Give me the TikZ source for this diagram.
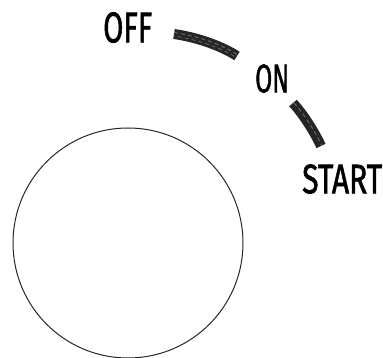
\documentclass[tikz,border=0pt]{standalone}
\usepackage{fontspec}
\newfontfamily\lblfont{Fira Sans}[FakeBold=1.6]
\tikzset{
  lbl/.style={inner sep=0pt, anchor=south west, font=\lblfont},
  marker/.style={line width=10pt, draw=black!85, line cap=butt},
  hatch/.style={line width=0.8pt, draw=black!55, dash pattern=on 4pt off 3pt},
  dial/.style={draw=black!85, line width=1pt}
}
\begin{document}
\begin{tikzpicture}[x=1pt,y=1pt]
\useasboundingbox (0,0) rectangle (383,358);
\node[lbl] (off) at (103,315) {\resizebox{49pt}{30pt}{OFF}};
\node[lbl] (on) at (255,265) {\resizebox{34pt}{28pt}{ON}};
\node[lbl] (start) at (302,164) {\resizebox{80pt}{29pt}{START}};
\coordinate (a1) at (174,324);
\coordinate (a2) at (237,302);
\coordinate (b1) at (293,255);
\coordinate (b2) at (321,212);
\draw[marker] (a1) .. controls (195,321) and (220,313) .. (a2);
\draw[hatch] ([yshift=1.5pt]a1) .. controls (195,322.5) and (220,314.5) .. ([yshift=1.5pt]a2);
\draw[hatch, dash phase=3pt, draw=black!60] ([yshift=-2pt]a1) .. controls (195,319) and (220,311) .. ([yshift=-2pt]a2);
\draw[marker] (b1) .. controls (302,245) and (313,229) .. (b2);
\draw[hatch] ([xshift=1pt]b1) .. controls (303,245) and (314,229) .. ([xshift=1pt]b2);
\node[dial, circle, minimum size=230pt, inner sep=0pt] (knob) at (128,115) {};
\end{tikzpicture}
\end{document}
